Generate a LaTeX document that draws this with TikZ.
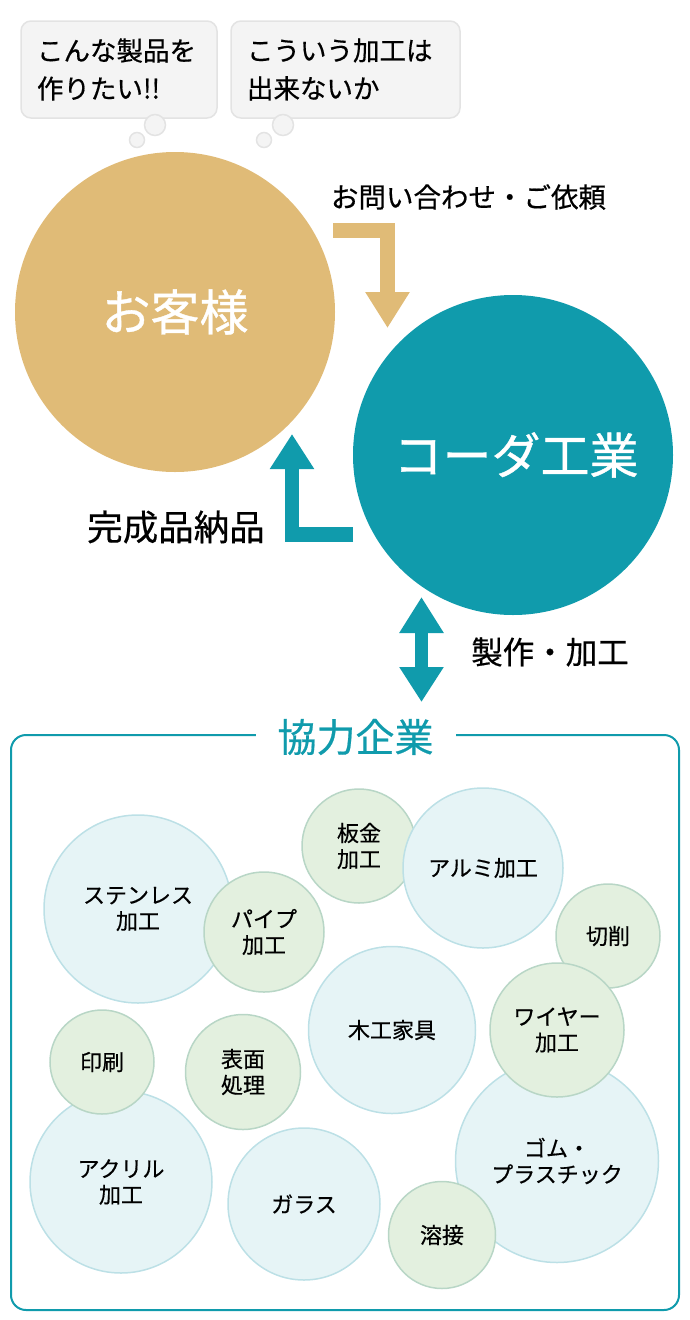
\documentclass[tikz,border=0pt]{standalone}
\usepackage{fontspec}
\setmainfont{Noto Sans CJK JP}[FakeBold=0.5]
\newfontfamily\bigfont{Noto Sans CJK JP}[FakeBold=0.8]
\usetikzlibrary{arrows.meta}
\definecolor{kgold}{HTML}{E0BB77}
\definecolor{kteal}{HTML}{109BAC}
\definecolor{bfill}{HTML}{E6F4F6}
\definecolor{bdraw}{HTML}{BCE0E6}
\definecolor{gfill}{HTML}{E3F0DF}
\definecolor{gdraw}{HTML}{B8D6C6}
\definecolor{bubfill}{HTML}{F4F4F4}
\definecolor{bubdraw}{HTML}{E3E3E3}
\tikzset{
  bcirc/.style={circle, fill=bfill, draw=bdraw, line width=1.5pt, minimum size=#1, inner sep=0pt, align=center, font=\fontsize{22}{26}\selectfont},
  gcirc/.style={circle, fill=gfill, draw=gdraw, line width=1.5pt, minimum size=#1, inner sep=0pt, align=center, font=\fontsize{22}{26}\selectfont},
  bigcirc/.style={circle, minimum size=320pt, inner sep=0pt, text=white, font=\bigfont\fontsize{49}{52}\selectfont},
  bubble/.style={rounded corners=10pt, fill=bubfill, draw=bubdraw, line width=1.5pt, minimum height=97pt, inner xsep=16pt, align=left, font=\fontsize{26.5}{38}\selectfont},
  puff/.style={circle, fill=bubfill, draw=bubdraw, line width=1.5pt, minimum size=#1, inner sep=0pt},
  lbl/.style={inner sep=0pt, font=\fontsize{#1}{#1}\selectfont},
  blockarrow/.style={line width=#1, line join=miter}
}
\begin{document}
\begin{tikzpicture}[x=1pt,y=-1pt]
\useasboundingbox (0,0) rectangle (690,1320);
% speech bubbles
\node[bubble, minimum width=196pt, text width=164pt] (b1) at (119,69.5) {こんな製品を\\作りたい!!};
\node[bubble, minimum width=229pt, text width=197pt] (b2) at (345.5,69.5) {こういう加工は\\出来ないか};
\node[puff=21pt] (p1a) at (155,125) {};
\node[puff=15pt] (p1b) at (137,140) {};
\node[puff=21pt] (p2a) at (283,125) {};
\node[puff=15pt] (p2b) at (264,140) {};
% main circles
\node[bigcirc, fill=kgold] (cust) at (175,312) {お客様};
\node[bigcirc, fill=kteal] (koda) at (513,455) {\hspace*{6pt}コーダ工業};
% arrows
\coordinate (a1s) at (333,230.5);
\coordinate (a1e) at (387.5,328);
\draw[blockarrow=15pt, kgold, -{Triangle[width=42pt,length=36pt]}] (a1s) -| (a1e);
\node[lbl=27.5] (l1) at (468.5,197) {お問い合わせ・ご依頼};
\coordinate (a2s) at (353,534.5);
\coordinate (a2e) at (292,434);
\draw[blockarrow=14.5pt, kteal, -{Triangle[width=42pt,length=35pt]}] (a2s) -| (a2e);
\node[lbl=35.5] (l2) at (176,527) {完成品納品};
\coordinate (a3s) at (421.5,597);
\coordinate (a3e) at (421.5,702);
\draw[blockarrow=13pt, kteal, {Triangle[width=42pt,length=36pt]}-{Triangle[width=42pt,length=35pt]}] (a3s) -- (a3e);
\node[lbl=31.5] (l3) at (550,652) {製作・加工};
% partner box
\draw[kteal, line width=2pt, rounded corners=15pt] (11,735) rectangle (679,1310);
\node[fill=white, inner xsep=22pt, inner ysep=2pt, text=kteal, font=\fontsize{39}{41}\selectfont] (title) at (355.5,737) {協力企業};
% circles
\node[gcirc=114pt] (bankin) at (359,846) {板金\\加工};
\node[bcirc=188pt] (sus) at (138,909) {ステンレス\\加工};
\node[bcirc=160pt] (alu) at (483,868) {アルミ加工};
\node[bcirc=167pt] (wood) at (392,1030) {木工家具};
\node[bcirc=182pt] (acr) at (121,1182) {アクリル\\加工};
\node[bcirc=152pt] (glass) at (304,1204) {ガラス};
\node[bcirc=203pt] (rubber) at (557,1161) {ゴム・\\プラスチック};
\node[gcirc=120pt] (pipe) at (264,932) {パイプ\\加工};
\node[gcirc=104pt] (cut) at (608,936) {切削};
\node[gcirc=134pt] (wire) at (557,1030) {ワイヤー\\加工};
\node[gcirc=104pt] (print) at (102,1062) {印刷};
\node[gcirc=115pt] (surf) at (243,1072) {表面\\処理};
\node[gcirc=107pt] (weld) at (442,1235) {溶接};
\end{tikzpicture}
\end{document}
